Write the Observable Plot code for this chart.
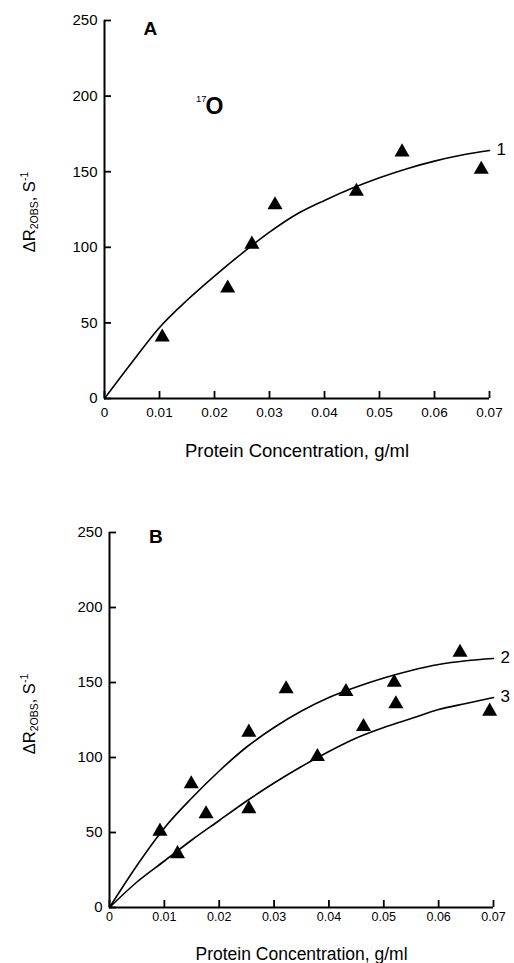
<!DOCTYPE html>
<html>
<head>
<meta charset="utf-8">
<script src="https://cdn.jsdelivr.net/npm/d3@7"></script>
<script src="https://cdn.jsdelivr.net/npm/@observablehq/plot@0.6"></script>
<style>
  html, body { margin: 0; padding: 0; background: #fff; }
  #wrap { position: relative; width: 514px; height: 963px; overflow: hidden; }
  #wrap svg { position: absolute; left: 0; }
</style>
</head>
<body>
<div id="wrap"></div>
<script>
// ---- Data ----
const xTicks = [0, 0.01, 0.02, 0.03, 0.04, 0.05, 0.06, 0.07];
const xTickLabels = ["0", "0.01", "0.02", "0.03", "0.04", "0.05", "0.06", "0.07"];
const yTicks = [0, 50, 100, 150, 200, 250];

// Panel A (17O) measured points
const pointsAX = [0.0105, 0.0224, 0.0268, 0.0310, 0.0458, 0.0541, 0.0685];
const pointsAY = [40.5, 73, 102, 128, 137, 163, 151.5];

// Panel B measured points
const pointsBX = [0.0092, 0.0124, 0.0149, 0.0176, 0.0254, 0.0254, 0.0322, 0.0379, 0.0431, 0.0463, 0.0519, 0.0522, 0.0639, 0.0693];
const pointsBY = [50.8, 35.8, 82.4, 62.4, 116.8, 65.8, 145.7, 100.6, 143.9, 120.6, 150.1, 135.7, 170.1, 130.8];

// Fitted curves
const curveX  = [0, 0.005, 0.01, 0.015, 0.02, 0.025, 0.03, 0.035, 0.04, 0.045, 0.05, 0.055, 0.06, 0.065, 0.07];
const curve1Y = [0, 24, 47, 65, 81, 96, 110, 122, 131, 139, 146, 152, 157, 161, 164];
const curve2Y = [0, 28, 53, 73, 91, 107, 120, 131, 140, 147, 153, 158, 162, 164.5, 166];
const curve3Y = [0, 17, 31, 45, 58, 71, 83, 94, 104, 113, 120, 126, 132, 136, 140];

const curveLabels = ["1", "2", "3"];
const xLabel = "Protein Concentration, g/ml";

// ---- Tables ----
const xDomain = [xTicks[0], xTicks[xTicks.length - 1]];
const yDomain = [yTicks[0], yTicks[yTicks.length - 1]];
const toRows = (xs, ys, extra = {}) => xs.map((x, i) => ({x, y: ys[i], ...extra}));
const ptsA = toRows(pointsAX, pointsAY);
const ptsB = toRows(pointsBX, pointsBY);
const c1 = toRows(curveX, curve1Y, {k: curveLabels[0]});
const c2 = toRows(curveX, curve2Y, {k: curveLabels[1]});
const c3 = toRows(curveX, curve3Y, {k: curveLabels[2]});
const xTickRows = xTicks.map(x => ({x, y: yDomain[0]}));
const yTickRows = yTicks.map(y => ({x: xDomain[0], y}));

const FONT = "'Liberation Sans', Arial, Helvetica, sans-serif";
const W = 514;
const TICK = 7; // tick length in pixels
const wrap = document.getElementById("wrap");

function panel({height, mt, mb, ml, mr, curves, pts, letter, letterDx, letterDy, xFont, xPad, xLabelSize, xLabelDy, extra = []}) {
  const fw = W - ml - mr, fh = height - mt - mb;
  // convert the pixel tick length into data units for this frame
  const tickDX = TICK * (xDomain[1] - xDomain[0]) / fw;
  const tickDY = TICK * (yDomain[1] - yDomain[0]) / fh;
  return Plot.plot({
    width: W,
    height,
    marginTop: mt, marginBottom: mb, marginLeft: ml, marginRight: mr,
    style: {fontFamily: FONT, background: "transparent", color: "#000", overflow: "visible"},
    x: {domain: xDomain},
    y: {domain: yDomain},
    marks: [
      // tick labels
      Plot.axisY({ticks: yTicks, tickSize: 0, tickPadding: 7, fontSize: 15, label: null}),
      Plot.axisX({ticks: xTicks, tickSize: 0, tickPadding: xPad, fontSize: xFont, label: null,
                  tickFormat: d => xTickLabels[xTicks.indexOf(d)]}),
      // inward tick marks as short rules
      Plot.ruleX(xTickRows, {x: "x", y1: "y", y2: d => d.y + tickDY, stroke: "black", strokeWidth: 1.8}),
      Plot.ruleY(yTickRows, {y: "y", x1: "x", x2: d => d.x + tickDX, stroke: "black", strokeWidth: 1.8}),
      Plot.ruleY([0], {strokeWidth: 2}),
      Plot.ruleX([0], {strokeWidth: 2}),
      ...curves.map(c => Plot.line(c, {x: "x", y: "y", stroke: "black", strokeWidth: 1.6, curve: "monotone-x"})),
      ...curves.map(c => Plot.text([c[c.length - 1]], {x: "x", y: "y", text: "k", dx: 7, dy: -1, textAnchor: "start", fontSize: 17})),
      Plot.dot(pts, {x: "x", y: "y", symbol: "triangle", fill: "black", stroke: "none", r: 5.6}),
      Plot.text([letter], {frameAnchor: "top-left", dx: letterDx, dy: letterDy, fontSize: 19, fontWeight: "bold"}),
      Plot.text([xLabel], {frameAnchor: "bottom", dy: xLabelDy, fontSize: xLabelSize}),
      ...extra
    ]
  });
}

function addYLabel(svg, cx, cy) {
  const t = d3.select(svg).append("text")
    .attr("transform", `translate(${cx},${cy}) rotate(-90)`)
    .attr("text-anchor", "middle")
    .attr("dominant-baseline", "middle")
    .attr("font-family", FONT)
    .attr("font-size", 16.5)
    .attr("fill", "black");
  t.append("tspan").text("\u0394R");
  t.append("tspan").attr("font-size", 10.5).attr("dy", 4).text("2OBS");
  t.append("tspan").attr("dy", -4).text(", S");
  t.append("tspan").attr("font-size", 10.5).attr("dy", -6).text("-1");
}

// Panel A
const svgA = panel({
  height: 470, mt: 20, mb: 72, ml: 104, mr: 25,
  curves: [c1], pts: ptsA, letter: "A", letterDx: 39, letterDy: 0.5,
  xFont: 13.5, xPad: 9, xLabelSize: 18.5, xLabelDy: 58,
  extra: [
    Plot.text(["O"], {frameAnchor: "top-left", dx: 101, dy: 77, fontSize: 23, fontWeight: "bold"}),
    Plot.text(["17"], {frameAnchor: "top-left", dx: 91.5, dy: 75, fontSize: 9.5})
  ]
});
svgA.style.top = "0px";
addYLabel(svgA, 31, 212);
wrap.appendChild(svgA);

// Panel B
const svgB = panel({
  height: 483, mt: 52, mb: 56, ml: 109, mr: 21,
  curves: [c2, c3], pts: ptsB, letter: "B", letterDx: 39.5, letterDy: -3.5,
  xFont: 12.5, xPad: 5, xLabelSize: 17.5, xLabelDy: 52
});
svgB.style.top = "480px";
addYLabel(svgB, 31, 234);
wrap.appendChild(svgB);
</script>
</body>
</html>
